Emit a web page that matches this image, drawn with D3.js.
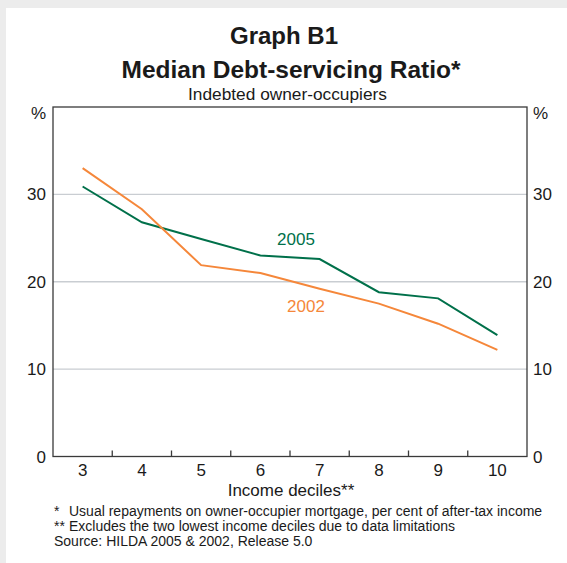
<!DOCTYPE html>
<html>
<head>
<meta charset="utf-8">
<script src="https://cdn.jsdelivr.net/npm/d3@7"></script>
<style>
  html, body { margin: 0; padding: 0; background: #ececec; }
  svg { display: block; font-family: "Liberation Sans", Arial, Helvetica, sans-serif; }
</style>
</head>
<body>
<svg id="chart" width="567" height="563"></svg>
<script>
const deciles = ["3", "4", "5", "6", "7", "8", "9", "10"];
const series2005 = [30.9, 26.8, 24.9, 23.0, 22.6, 18.8, 18.1, 13.9];
const series2002 = [33.0, 28.3, 21.9, 21.0, 19.2, 17.5, 15.2, 12.2];
const yTicks = [0, 10, 20, 30];
const seriesNames = ["2005", "2002"];
const colors = ["#00704a", "#f5873a"];

const svg = d3.select("#chart");
svg.append("rect").attr("x", 6).attr("y", 8).attr("width", 561).attr("height", 555).attr("fill", "#ffffff");

const L = 53, R = 527, T = 107, B = 456.5;
const x = d3.scaleBand().domain(deciles).range([L, R]).padding(0);
const y = d3.scaleLinear().domain([0, 40]).range([B, T]);

// titles
svg.append("text").attr("x", 284).attr("y", 44).attr("text-anchor", "middle")
  .attr("font-size", 24).attr("font-weight", "bold").attr("fill", "#1a1a1a").text("Graph B1");
svg.append("text").attr("x", 291).attr("y", 78).attr("text-anchor", "middle")
  .attr("font-size", 24.5).attr("font-weight", "bold").attr("fill", "#1a1a1a").text("Median Debt-servicing Ratio*");
svg.append("text").attr("x", 287.5).attr("y", 100).attr("text-anchor", "middle")
  .attr("font-size", 17.3).attr("fill", "#1a1a1a").text("Indebted owner-occupiers");

// gridlines
svg.append("g").selectAll("line").data(yTicks.filter(d => d > 0)).join("line")
  .attr("x1", L).attr("x2", R).attr("y1", d => y(d)).attr("y2", d => y(d))
  .attr("stroke", "#c9cdd2").attr("stroke-width", 1.3);

// frame
svg.append("rect").attr("x", L).attr("y", T).attr("width", R - L).attr("height", B - T)
  .attr("fill", "none").attr("stroke", "#3a3a3a").attr("stroke-width", 1.3);

// x ticks (inside, at band boundaries)
const bounds = deciles.slice(1).map(d => x(d));
svg.append("g").selectAll("line").data(bounds).join("line")
  .attr("x1", d => d).attr("x2", d => d).attr("y1", B).attr("y2", B - 6)
  .attr("stroke", "#3a3a3a").attr("stroke-width", 1.3);

// x labels
svg.append("g").selectAll("text").data(deciles).join("text")
  .attr("x", d => x(d) + x.bandwidth() / 2).attr("y", 475.5)
  .attr("text-anchor", "middle").attr("font-size", 17).attr("fill", "#1a1a1a").text(d => d);
svg.append("text").attr("x", 291).attr("y", 496).attr("text-anchor", "middle")
  .attr("font-size", 17).attr("fill", "#1a1a1a").text("Income deciles**");

// y labels
svg.append("g").selectAll("text").data(yTicks).join("text")
  .attr("x", L - 7).attr("y", d => y(d)).attr("dy", "0.36em")
  .attr("text-anchor", "end").attr("font-size", 17).attr("fill", "#1a1a1a").text(d => d);
svg.append("g").selectAll("text").data(yTicks).join("text")
  .attr("x", R + 6).attr("y", d => y(d)).attr("dy", "0.36em")
  .attr("text-anchor", "start").attr("font-size", 17).attr("fill", "#1a1a1a").text(d => d);
svg.append("text").attr("x", L - 7).attr("y", 119).attr("text-anchor", "end")
  .attr("font-size", 17).attr("fill", "#1a1a1a").text("%");
svg.append("text").attr("x", R + 6).attr("y", 119).attr("text-anchor", "start")
  .attr("font-size", 17).attr("fill", "#1a1a1a").text("%");

// lines
const line = d3.line().x((d, i) => x(deciles[i]) + x.bandwidth() / 2).y(d => y(d));
[series2005, series2002].forEach((s, k) => {
  svg.append("path").datum(s).attr("d", line).attr("fill", "none")
    .attr("stroke", colors[k]).attr("stroke-width", 2);
});

// series labels
svg.append("text").attr("x", 296).attr("y", 245).attr("text-anchor", "middle")
  .attr("font-size", 17).attr("fill", colors[0]).text(seriesNames[0]);
svg.append("text").attr("x", 306).attr("y", 312).attr("text-anchor", "middle")
  .attr("font-size", 17).attr("fill", colors[1]).text(seriesNames[1]);

// footnotes
const notes = [
  ["*", "Usual repayments on owner-occupier mortgage, per cent of after-tax income"],
  ["**", "Excludes the two lowest income deciles due to data limitations"]
];
notes.forEach((n, i) => {
  svg.append("text").attr("x", 54).attr("y", 516 + i * 15).attr("font-size", 14)
    .attr("fill", "#1a1a1a").text(n[0]);
  svg.append("text").attr("x", 69).attr("y", 516 + i * 15).attr("font-size", 14)
    .attr("fill", "#1a1a1a").text(n[1]);
});
svg.append("text").attr("x", 54).attr("y", 546).attr("font-size", 14)
  .attr("fill", "#1a1a1a").text("Source: HILDA 2005 & 2002, Release 5.0");
</script>
</body>
</html>
